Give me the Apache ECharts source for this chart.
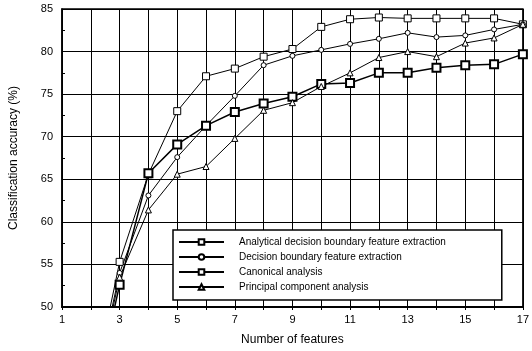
<!DOCTYPE html>
<html>
<head>
<meta charset="utf-8">
<style>html,body{margin:0;padding:0;width:532px;height:351px;background:#fff;overflow:hidden;}#chart{width:532px;height:351px;}</style>
<script src="https://cdn.jsdelivr.net/npm/echarts@6/dist/echarts.min.js"></script>
</head>
<body>
<div id="chart"></div>
<script>
// number of features on x, accuracy (%) on y
var features = [2, 3, 4, 5, 6, 7, 8, 9, 10, 11, 12, 13, 14, 15, 16, 17];
var analyticalDB = [39.0, 55.3, 65.6, 73.0, 77.1, 78.0, 79.4, 80.3, 82.9, 83.8, 84.0, 83.9, 83.9, 83.9, 83.9, 83.2];
var decisionDB = [38.5, 54.0, 63.1, 67.6, 71.3, 74.8, 78.4, 79.5, 80.2, 80.9, 81.5, 82.2, 81.7, 81.9, 82.6, 83.2];
var canonical = [37.5, 52.6, 65.7, 69.1, 71.3, 72.9, 73.9, 74.7, 76.2, 76.3, 77.5, 77.5, 78.1, 78.4, 78.5, 79.7];
var pca = [38.0, 53.5, 61.4, 65.6, 66.5, 69.8, 73.1, 74.0, 75.9, 77.5, 79.3, 80.0, 79.4, 81.0, 81.6, 83.2];
var seriesNames = [
  "Analytical decision boundary feature extraction",
  "Decision boundary feature extraction",
  "Canonical analysis",
  "Principal component analysis"
];

function pairs(vals) {
  return features.map(function (f, i) { return [f, vals[i]]; });
}

function lineSeries(name, vals, symbol, size, width, border) {
  return {
    name: name,
    type: "line",
    data: pairs(vals),
    symbol: symbol,
    symbolSize: size,
    clip: true,
    lineStyle: { color: "#000", width: width },
    itemStyle: { color: "#fff", borderColor: "#000", borderWidth: border },
    emphasis: { disabled: true }
  };
}

var chart = echarts.init(document.getElementById("chart"), null, { renderer: "canvas" });
chart.setOption({
  animation: false,
  backgroundColor: "#fff",
  textStyle: { fontFamily: "Liberation Sans" },
  grid: { left: 57, right: 2, top: 9, bottom: 41, show: true, borderColor: "#000", borderWidth: 1.5 },
  legend: {
    orient: "vertical",
    left: 173,
    top: 230,
    itemWidth: 45,
    itemHeight: 7,
    itemGap: 5,
    padding: [7, 56, 8, 5],
    backgroundColor: "#fff",
    borderColor: "#000",
    borderWidth: 1.5,
    textStyle: { fontSize: 10, color: "#000", padding: [0, 0, 0, 10] },
    data: seriesNames
  },
  xAxis: {
    type: "value",
    min: 1,
    max: 17,
    interval: 1,
    name: "Number of features",
    nameLocation: "middle",
    nameGap: 27,
    nameTextStyle: { fontSize: 12, color: "#000" },
    axisLine: { lineStyle: { color: "#000", width: 2 } },
    axisTick: { inside: false, length: 3, lineStyle: { color: "#000" } },
    axisLabel: {
      color: "#000",
      fontSize: 11,
      margin: 7,
      formatter: function (v) { return v % 2 === 1 ? String(v) : ""; }
    },
    splitLine: { show: true, lineStyle: { color: "#000", width: 1 } }
  },
  yAxis: {
    type: "value",
    min: 50,
    max: 85,
    interval: 5,
    name: "Classification accuracy (%)",
    nameLocation: "middle",
    nameGap: 42,
    nameTextStyle: { fontSize: 12, color: "#000" },
    axisLine: { show: true, lineStyle: { color: "#000", width: 1.5 } },
    axisTick: { show: true, inside: true, length: 4, lineStyle: { color: "#000" } },
    minorTick: { show: true, splitNumber: 2, length: 3, lineStyle: { color: "#000" } },
    axisLabel: { color: "#000", fontSize: 11, margin: 9 },
    splitLine: { show: true, lineStyle: { color: "#000", width: 1 } }
  },
  series: [
    lineSeries(seriesNames[0], analyticalDB, "rect", 7, 1, 1),
    lineSeries(seriesNames[1], decisionDB, "circle", 5, 1, 1),
    lineSeries(seriesNames[2], canonical, "rect", 8, 1.5, 2),
    lineSeries(seriesNames[3], pca, "triangle", 6, 1, 1)
  ]
});
</script>
</body>
</html>
